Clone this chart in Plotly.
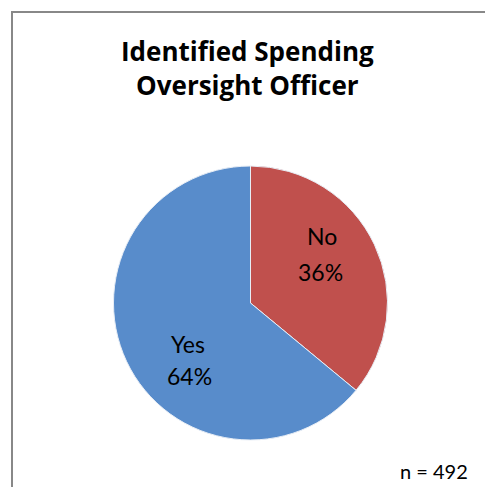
import plotly.graph_objects as go

labels = ["No", "Yes"]
values = [36, 64]
colors = ["#C0504D", "#588CCB"]
title_lines = ["Identified Spending", "Oversight Officer"]
n_text = "n = 492"

W, H = 485, 487

def px(x):
    return x / W

def py(y):
    return 1 - y / H

fig = go.Figure()
fig.add_trace(go.Pie(
    labels=labels,
    values=values,
    sort=False,
    direction="clockwise",
    rotation=0,
    marker=dict(colors=colors, line=dict(color="#E8EEF6", width=1)),
    textinfo="none",
    hoverinfo="label+percent",
    showlegend=False,
    domain=dict(x=[px(250.5 - 137), px(250.5 + 137)], y=[py(440), py(166)]),
))

total = sum(values)
label_pos = [((322, 236.5), (320, 271.5)), ((188, 343.5), (189, 376))]
for lab, val, (p1, p2) in zip(labels, values, label_pos):
    for txt, (lx, ly) in zip([lab, f"{round(100 * val / total)}%"], [p1, p2]):
        fig.add_annotation(
            x=px(lx), y=py(ly), xref="paper", yref="paper",
            text=txt, showarrow=False, xanchor="center", yanchor="middle",
            font=dict(family="Lato", size=23, color="#000000"),
        )

fig.add_annotation(
    x=px(248), y=py(68.5), xref="paper", yref="paper",
    text="<b>" + "<br>".join(title_lines) + "</b>", showarrow=False,
    xanchor="center", yanchor="middle",
    font=dict(family="Open Sans", size=26, color="#000000"),
)

fig.add_annotation(
    x=px(470), y=py(471), xref="paper", yref="paper",
    text=n_text, showarrow=False, xanchor="right", yanchor="middle",
    font=dict(family="Lato", size=20, color="#000000"),
)

fig.add_shape(
    type="rect", xref="paper", yref="paper",
    x0=px(12), x1=1.1, y0=-0.1, y1=py(12),
    line=dict(color="#888888", width=2), fillcolor="rgba(0,0,0,0)",
)

fig.update_layout(
    width=W, height=H,
    margin=dict(l=0, r=0, t=0, b=0),
    paper_bgcolor="white", plot_bgcolor="white",
)

fig.write_html(
    "out.html",
    config={"displayModeBar": False},
    post_script="document.body.style.margin='0';document.body.style.overflow='hidden';",
)
